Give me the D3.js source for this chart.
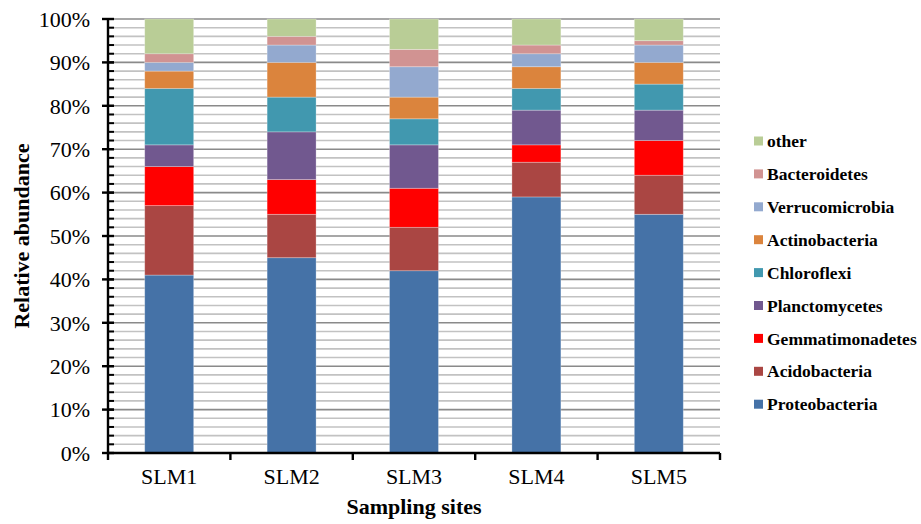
<!DOCTYPE html>
<html>
<head>
<meta charset="utf-8">
<script src="https://cdn.jsdelivr.net/npm/d3@7"></script>
<style>
  html, body { margin: 0; padding: 0; background: #fff; }
  svg { display: block; }
</style>
</head>
<body>
<svg id="chart" width="921" height="524"></svg>
<script>
// Sampling sites along the x axis
const sites = ["SLM1", "SLM2", "SLM3", "SLM4", "SLM5"];

// Phyla in stacking order (bottom to top)
const phyla = ["Proteobacteria", "Acidobacteria", "Gemmatimonadetes", "Planctomycetes",
               "Chloroflexi", "Actinobacteria", "Verrucomicrobia", "Bacteroidetes", "other"];

// Relative abundance (%) per phylum, one value per site
const proteobacteria   = [41, 45, 42, 59, 55];
const acidobacteria    = [16, 10, 10,  8,  9];
const gemmatimonadetes = [ 9,  8,  9,  4,  8];
const planctomycetes   = [ 5, 11, 10,  8,  7];
const chloroflexi      = [13,  8,  6,  5,  6];
const actinobacteria   = [ 4,  8,  5,  5,  5];
const verrucomicrobia  = [ 2,  4,  7,  3,  4];
const bacteroidetes    = [ 2,  2,  4,  2,  1];
const other            = [ 8,  4,  7,  6,  5];

const yTicks = [0, 10, 20, 30, 40, 50, 60, 70, 80, 90, 100];

const colors = ["#4572a7", "#aa4643", "#ff0000", "#71588f", "#4198af",
                "#db843d", "#93a9cf", "#d19392", "#b9cd96"];

const seriesValues = [proteobacteria, acidobacteria, gemmatimonadetes, planctomycetes,
                      chloroflexi, actinobacteria, verrucomicrobia, bacteroidetes, other];

// Build row table for d3.stack
const rows = sites.map((s, i) => {
  const r = { site: s };
  phyla.forEach((p, k) => { r[p] = seriesValues[k][i]; });
  return r;
});

const FONT = "'Liberation Serif', 'Times New Roman', serif";
const svg = d3.select("#chart").attr("font-family", FONT);
const margin = { left: 108, right: 201, top: 19, bottom: 71 };
const W = 921, H = 524;
const x0 = margin.left, x1 = W - margin.right;
const y0 = H - margin.bottom, y1 = margin.top;

const x = d3.scaleBand().domain(sites).range([x0, x1]).paddingInner(0.6).paddingOuter(0.3);
const y = d3.scaleLinear().domain([0, 100]).range([y0, y1]);

// Horizontal gridlines every 2 %, darker at each 10 %
const gridVals = d3.range(2, 101, 2);
svg.append("g").selectAll("line").data(gridVals).join("line")
  .attr("x1", x0).attr("x2", x1)
  .attr("y1", d => y(d)).attr("y2", d => y(d))
  .attr("stroke", d => d % 10 === 0 ? "#8a8a8a" : "#c2c2c2")
  .attr("stroke-width", 1.6);

// Stacked bars
const stack = d3.stack().keys(phyla)(rows);
svg.append("g").selectAll("g").data(stack).join("g")
  .attr("fill", (d, i) => colors[i])
  .selectAll("rect").data(d => d).join("rect")
  .attr("x", d => x(d.data.site))
  .attr("width", x.bandwidth())
  .attr("y", d => y(d[1]))
  .attr("height", d => y(d[0]) - y(d[1]))
  .attr("stroke", "#ffffff").attr("stroke-opacity", 0.35).attr("stroke-width", 0.8);

// Y axis: major ticks crossing the line, minor ticks inside
const yAxis = svg.append("g");
yAxis.append("line").attr("x1", x0).attr("x2", x0).attr("y1", y(0) + 1).attr("y2", y(100) - 1)
  .attr("stroke", "#000").attr("stroke-width", 2.4);
yAxis.selectAll("line.minor").data(d3.range(0, 101, 2)).join("line")
  .attr("class", "minor")
  .attr("x1", x0).attr("x2", x0 + 6)
  .attr("y1", d => y(d)).attr("y2", d => y(d))
  .attr("stroke", "#000").attr("stroke-width", 2);
yAxis.selectAll("line.major").data(yTicks).join("line")
  .attr("class", "major")
  .attr("x1", x0 - 6).attr("x2", x0 + 6)
  .attr("y1", d => y(d)).attr("y2", d => y(d))
  .attr("stroke", "#000").attr("stroke-width", 2.4);
yAxis.selectAll("text").data(yTicks).join("text")
  .attr("x", x0 - 18).attr("y", d => y(d))
  .attr("dy", "0.35em")
  .attr("text-anchor", "end")
  .attr("font-size", 22)
  .text(d => d + "%");

// X axis with ticks at band boundaries
const xAxis = svg.append("g");
xAxis.append("line").attr("x1", x0 - 1).attr("x2", x1).attr("y1", y0).attr("y2", y0)
  .attr("stroke", "#000").attr("stroke-width", 2.4);
const bounds = d3.range(sites.length + 1).map(i => x0 + i * (x1 - x0) / sites.length);
xAxis.selectAll("line.tick").data(bounds).join("line")
  .attr("class", "tick")
  .attr("x1", d => d).attr("x2", d => d)
  .attr("y1", y0).attr("y2", y0 + 7)
  .attr("stroke", "#000").attr("stroke-width", 2.4);
xAxis.selectAll("text").data(sites).join("text")
  .attr("x", d => x(d) + x.bandwidth() / 2)
  .attr("y", y0 + 31)
  .attr("text-anchor", "middle")
  .attr("font-size", 22)
  .text(d => d);

// Axis titles
svg.append("text")
  .attr("x", (x0 + x1) / 2).attr("y", 514)
  .attr("text-anchor", "middle")
  .attr("font-size", 22).attr("font-weight", "bold")
  .text("Sampling sites");
svg.append("text")
  .attr("transform", `translate(29,${(y0 + y1) / 2}) rotate(-90)`)
  .attr("text-anchor", "middle")
  .attr("font-size", 22).attr("font-weight", "bold")
  .text("Relative abundance");

// Legend, top entry is the top of the stack
const legendItems = phyla.map((p, i) => ({ name: p, color: colors[i] })).reverse();
const leg = svg.append("g").attr("transform", "translate(754,141)");
const lg = leg.selectAll("g").data(legendItems).join("g")
  .attr("transform", (d, i) => `translate(0,${i * 32.9})`);
lg.append("rect").attr("x", 0).attr("y", -4.5).attr("width", 9).attr("height", 9)
  .attr("fill", d => d.color);
lg.append("text").attr("x", 13).attr("y", 0).attr("dy", "0.35em")
  .attr("font-size", 17.5).attr("font-weight", "bold")
  .text(d => d.name);
</script>
</body>
</html>
